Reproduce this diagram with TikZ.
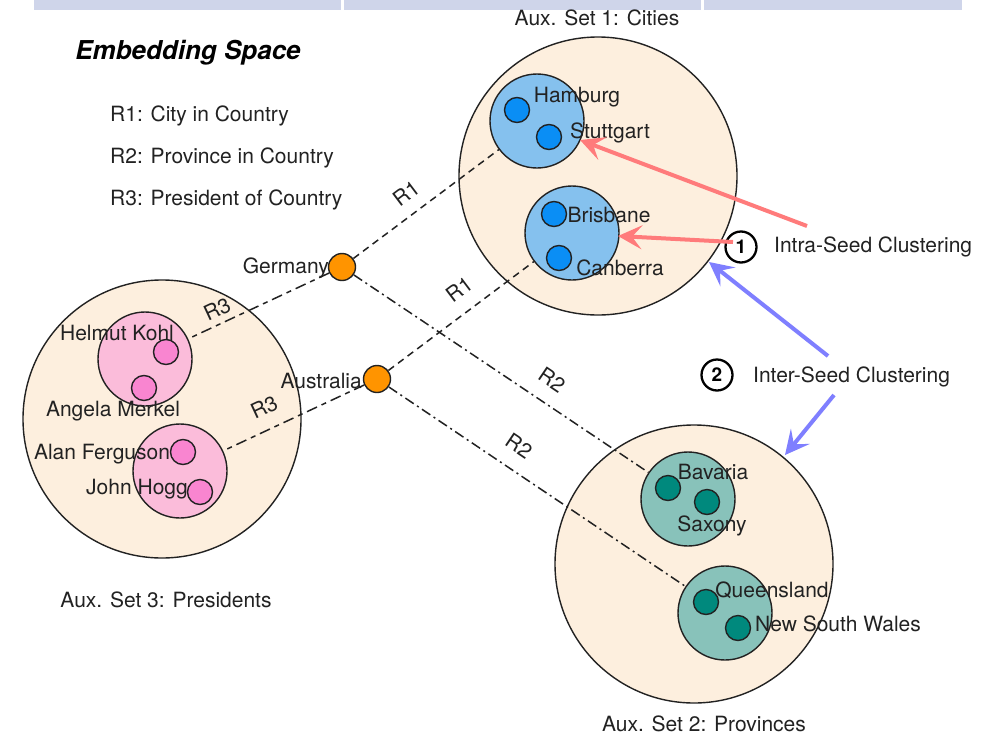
\documentclass[tikz,border=0pt]{standalone}
\usepackage{fontspec}
\setmainfont{TeX Gyre Heros}
\usetikzlibrary{arrows.meta}
\definecolor{barcol}{HTML}{CFD5EA}
\definecolor{peach}{HTML}{FDEFDE}
\definecolor{cityfill}{HTML}{85C1EE}
\definecolor{citydot}{HTML}{0A8EF5}
\definecolor{presfill}{HTML}{FBBCDA}
\definecolor{presdot}{HTML}{F985D0}
\definecolor{provfill}{HTML}{88C2BA}
\definecolor{provdot}{HTML}{00897D}
\definecolor{ctry}{HTML}{FF9400}
\definecolor{redarr}{HTML}{FF7B7B}
\definecolor{bluearr}{HTML}{7F7FFF}
\definecolor{ink}{HTML}{222222}
\begin{document}
\begin{tikzpicture}[x=1pt,y=-1pt,
  lbl/.style={font=\fontsize{21}{24}\selectfont, inner sep=0pt, text=ink},
  bigset/.style={circle, draw=ink, line width=1.4pt, fill=peach, minimum size=278pt, inner sep=0pt},
  clus/.style={circle, draw=ink, line width=1.4pt, minimum size=94pt, inner sep=0pt},
  dotn/.style={circle, draw=ink, line width=1.4pt, minimum size=25pt, inner sep=0pt},
  ctrydot/.style={circle, draw=ink, line width=1.4pt, fill=ctry, minimum size=27pt, inner sep=0pt},
  rone/.style={line width=1.5pt, draw=ink, dash pattern=on 7pt off 5pt},
  rthree/.style={line width=1.5pt, draw=ink, dash pattern=on 11pt off 5pt on 5pt off 5pt},
  rtwo/.style={line width=1.5pt, draw=ink, dash pattern=on 10pt off 4pt on 2pt off 4pt},
  numc/.style={circle, draw=black, line width=2.3pt, minimum size=31pt, inner sep=0pt, font=\fontsize{19}{20}\selectfont\bfseries},
  bigarrow/.style={line width=4pt, -{Stealth[length=24pt,width=24pt,inset=10pt]}},
]
\useasboundingbox (0,0) rectangle (1000,736);
\fill[white] (0,0) rectangle (1000,736);
% top bar
\fill[barcol] (34,0) rectangle (341,10);
\fill[barcol] (344,0) rectangle (701,10);
\fill[barcol] (704,0) rectangle (962,10);

% title and legend
\node[lbl, font=\fontsize{26}{30}\selectfont\bfseries\itshape, text=black] (title) at (188,53) {Embedding Space};
\node[lbl, anchor=west] (leg1) at (110,116) {R1: City in Country};
\node[lbl, anchor=west] (leg2) at (110,158) {R2: Province in Country};
\node[lbl, anchor=west] (leg3) at (110,200) {R3: President of Country};

% big sets
\node[bigset] (cities) at (598,176) {};
\node[bigset] (pres) at (162,419) {};
\node[bigset] (prov) at (694,564) {};
\node[lbl] (citiesl) at (597,18) {Aux. Set 1: Cities};
\node[lbl] (presl) at (166,600) {Aux. Set 3: Presidents};
\node[lbl] (provl) at (704,724) {Aux. Set 2: Provinces};

% clusters
\node[clus, fill=cityfill] (hamc) at (537,121) {};
\node[clus, fill=cityfill] (brisc) at (572,233) {};
\node[clus, fill=presfill] (kohlc) at (145,359) {};
\node[clus, fill=presfill] (fergc) at (180,471) {};
\node[clus, fill=provfill] (bavc) at (688,499) {};
\node[clus, fill=provfill] (qldc) at (725,613) {};

% countries
\node[ctrydot] (germany) at (342,267) {};
\node[ctrydot] (australia) at (377,379) {};
\node[lbl, anchor=east] (germanyl) at (329,268) {Germany};
\node[lbl, anchor=east] (australial) at (362,381) {Australia};

% relation lines
\draw[rone] (germany) -- (hamc);
\draw[rone] (australia) -- (brisc);
\draw[rthree] (germany) -- (kohlc);
\draw[rthree] (australia) -- (fergc);
\draw[rtwo] (germany) -- (bavc);
\draw[rtwo] (australia) -- (qldc);
\node[lbl, rotate=37] (r1a) at (406,193) {R1};
\node[lbl, rotate=37] (r1b) at (459,289) {R1};
\node[lbl, rotate=-34] (r2a) at (552,380) {R2};
\node[lbl, rotate=-34] (r2b) at (519,446) {R2};
\node[lbl, rotate=25] (r3a) at (217,309) {R3};
\node[lbl, rotate=25] (r3b) at (264,407) {R3};

% entity dots
\node[dotn, fill=citydot] (hamd) at (517,110) {};
\node[dotn, fill=citydot] (stud) at (549,137) {};
\node[dotn, fill=citydot] (brid) at (554,214) {};
\node[dotn, fill=citydot] (cand) at (559,258) {};
\node[dotn, fill=presdot] (kohld) at (166,352) {};
\node[dotn, fill=presdot] (merkd) at (144,388) {};
\node[dotn, fill=presdot] (fergd) at (183,452) {};
\node[dotn, fill=presdot] (hoggd) at (200,492) {};
\node[dotn, fill=provdot] (bavd) at (668,488) {};
\node[dotn, fill=provdot] (saxd) at (707,502) {};
\node[dotn, fill=provdot] (qldd) at (706,602) {};
\node[dotn, fill=provdot] (nswd) at (738,628) {};

% entity labels
\node[lbl] (haml) at (577,97) {Hamburg};
\node[lbl] (stul) at (610,133) {Stuttgart};
\node[lbl] (bril) at (609,215) {Brisbane};
\node[lbl] (canl) at (620,268) {Canberra};
\node[lbl] (kohll) at (117,333) {Helmut Kohl};
\node[lbl] (merkl) at (113,411) {Angela Merkel};
\node[lbl] (fergl) at (102,454) {Alan Ferguson};
\node[lbl] (hoggl) at (137,489) {John Hogg};
\node[lbl] (bavl) at (713,472) {Bavaria};
\node[lbl] (saxl) at (712,526) {Saxony};
\node[lbl] (qldl) at (772,590) {Queensland};
\node[lbl] (nswl) at (838,624) {New South Wales};

% clustering annotations
\node[numc] (n1) at (741,247) {1};
\node[numc] (n2) at (717,375) {2};
\node[lbl, anchor=west] (intra) at (774,247) {Intra-Seed Clustering};
\node[lbl, anchor=west] (inter) at (753,377) {Inter-Seed Clustering};

\coordinate (a1s) at (807,226);
\coordinate (a1e) at (580,140);
\coordinate (a2s) at (733,242);
\coordinate (a2e) at (618,236);
\coordinate (b1s) at (828,356);
\coordinate (b1e) at (709,262);
\coordinate (b2s) at (834,395);
\coordinate (b2e) at (785,455);
\draw[bigarrow, redarr] (a1s) -- (a1e);
\draw[bigarrow, redarr] (a2s) -- (a2e);
\draw[bigarrow, bluearr] (b1s) -- (b1e);
\draw[bigarrow, bluearr] (b2s) -- (b2e);
\end{tikzpicture}
\end{document}
